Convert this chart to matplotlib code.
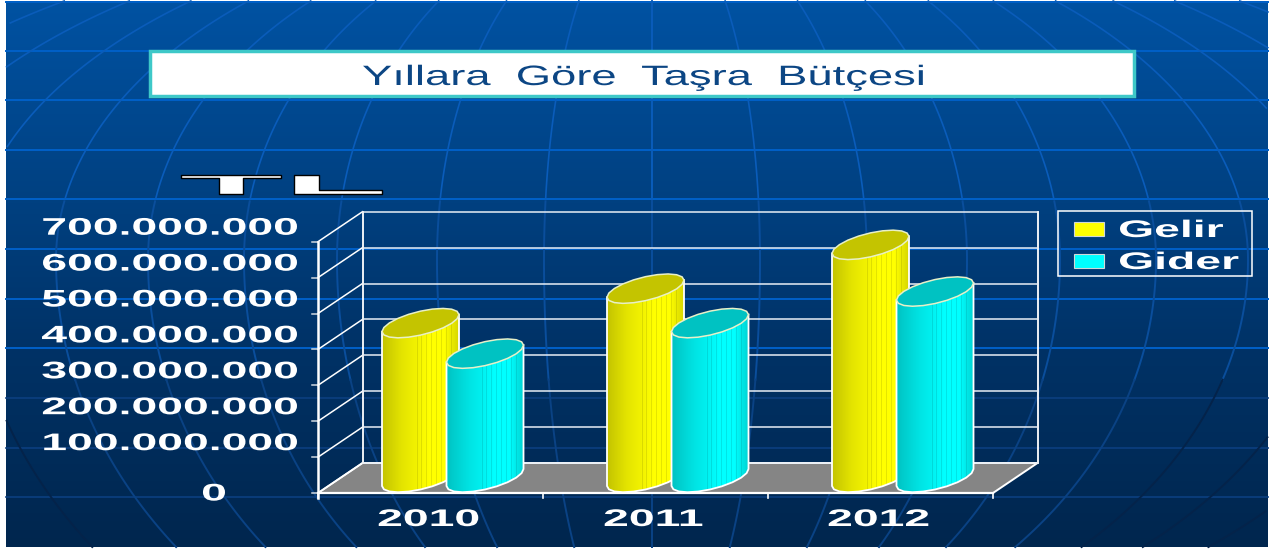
import numpy as np
import matplotlib
matplotlib.use("Agg")
import matplotlib.pyplot as plt
from matplotlib.colors import LinearSegmentedColormap
from matplotlib.font_manager import FontProperties
from matplotlib.patches import Polygon, Rectangle
from matplotlib.path import Path
from matplotlib.text import Text
from matplotlib.textpath import TextPath
from matplotlib.transforms import Affine2D, Bbox

title = "Yıllara  Göre  Taşra  Bütçesi"
unit = "TL"
years = ["2010", "2011", "2012"]
gelir = [430e6, 526e6, 648e6]
gider = [345e6, 430e6, 518e6]
series_names = ["Gelir", "Gider"]
ticks = [0, 100e6, 200e6, 300e6, 400e6, 500e6, 600e6, 700e6]
tick_labels = ["0", "100.000.000", "200.000.000", "300.000.000",
               "400.000.000", "500.000.000", "600.000.000", "700.000.000"]

W, H = 1274, 550
BOLD = FontProperties(family="Liberation Sans", weight="bold")
REG = FontProperties(family="Liberation Sans")


class WideText(Text):
    # the slide was stretched sideways, normal Text can't do that
    def __init__(self, x, y, s, px=24, sx=1.93, edge=None, edge_w=0, **kw):
        super().__init__(x, y, s, **kw)
        self.px, self.sx, self.edge, self.edge_w = px, sx, edge, edge_w

    def _placed(self):
        tp = TextPath((0, 0), self.get_text(), size=self.px,
                      prop=self.get_fontproperties())
        ext = tp.get_extents()
        xd, yd = self.get_transform().transform(self.get_position())
        off = {"left": ext.x0, "center": (ext.x0 + ext.x1) / 2,
               "right": ext.x1}[self.get_ha()] * self.sx
        return Path(tp.vertices, tp.codes), Affine2D().scale(self.sx, 1).translate(xd - off, yd)

    def get_window_extent(self, renderer=None, dpi=None):
        p, tr = self._placed()
        return Bbox(p.get_extents(tr))

    def draw(self, renderer):
        p, tr = self._placed()
        gc = renderer.new_gc()
        gc.set_antialiased(True)
        gc.set_linewidth(self.edge_w)
        gc.set_foreground(self.edge if self.edge else self.get_color())
        renderer.draw_path(gc, p, tr, matplotlib.colors.to_rgb(self.get_color()))
        gc.restore()


def wtext(x, y, s, **kw):
    t = WideText(x, y, s, **kw)
    ax.add_artist(t)
    t.set_transform(ax.transData)
    return t


fig = plt.figure(figsize=(W / 100, H / 100), dpi=100, facecolor="white")
ax = fig.add_axes([0, 0, 1, 1])
ax.axis("off")

# background
bg = LinearSegmentedColormap.from_list("bg", [(0, "#0052a2"), (0.37, "#004080"),
                                              (0.64, "#003266"), (1, "#00264e")])
ax.imshow(np.linspace(0, 1, 256)[:, None], cmap=bg, aspect="auto", extent=(6, 1268, 547, 1), zorder=0)

for yy in [2, 51, 100, 150, 199, 249, 299, 348, 398, 448, 497]:
    ax.plot([6, 1268], [yy, yy], color="#0060c8" if yy < 360 else "#0b3f80", lw=1.4 if yy < 360 else 1.2, zorder=1)

# meridians of the globe behind
ys = np.linspace(1, 547, 200)
for half in [0, 108, 215, 315, 408, 504, 596, 681, 772, 868]:
    for side in [-1, 1]:
        low_b = 414.0 + (max(half - 400, 0) * 0.32 if side < 0 else 0)
        b = np.where(ys < 260, 352.0, low_b)
        xs = 652 + side * half * np.sqrt(1 - ((ys - 260) / b) ** 2)
        keep = (xs > 6) & (xs < 1268)
        xs_k = np.where(keep, xs, np.nan)
        outer = half >= 681 or (side > 0 and half >= 596)
        ax.plot(xs_k[ys < 200], ys[ys < 200], color="#0a5cba", lw=1.2, zorder=1)
        ax.plot(xs_k[(ys >= 199) & (ys < 380)], ys[(ys >= 199) & (ys < 380)], color="#0a4e9c", lw=1.4, zorder=1)
        ax.plot(xs_k[ys >= 379], ys[ys >= 379], color="#04234a" if outer else "#0a4284", lw=1.4, zorder=1)

# title box
ax.add_patch(Rectangle((150, 51), 984, 45, fc="white", ec="#3ec8c8", lw=2.5, zorder=3))
wtext(363, 85, title, px=28, sx=1.62, color="#0c4684", fontproperties=REG, ha="left", zorder=4)
wtext(181, 193.5, unit, px=27, sx=6.3, color="white", edge="black", edge_w=1.0,
      fontproperties=BOLD, ha="left", zorder=4)

# 3d box of the chart
x0, y0, step = 318, 493, 35.9
dx, dy, xr = 44.5, -30, 993


def val_y(v):
    return y0 - v / 100e6 * step


floor = [(x0, y0), (xr, y0), (xr + dx, y0 + dy), (x0 + dx, y0 + dy)]
ax.add_patch(Polygon(floor, closed=True, fc="#858585", ec="white", lw=1.4, zorder=2))
top_y = val_y(ticks[-1])
ax.plot([x0 + dx, x0 + dx], [top_y + dy, y0 + dy], color="white", lw=1.3, zorder=2)
ax.plot([xr + dx, xr + dx], [top_y + dy, y0 + dy], color="white", lw=1.3, zorder=2)
for t in ticks:
    yy = val_y(t)
    ax.plot([x0, x0 + dx], [yy, yy + dy], color="white", lw=1.1, zorder=2)
    ax.plot([x0 + dx, xr + dx], [yy + dy, yy + dy], color="#e8eef5", lw=1.1, zorder=2)
    ax.plot([x0 - 6, x0], [yy, yy], color="#d0d8e0", lw=1.1, zorder=2)
ax.plot([x0, x0], [top_y, y0 + 5], color="white", lw=1.8, zorder=2)
ax.plot([x0, xr], [y0, y0], color="white", lw=1.6, zorder=2)
for i in range(len(years) + 1):
    xt = x0 + i * (xr - x0) / len(years)
    ax.plot([xt, xt], [y0, y0 + 5], color="white", lw=1.2, zorder=2)

for t, lab in zip(ticks, tick_labels):
    if t == 0:
        wtext(225, val_y(t) + 7.5, lab, color="white", fontproperties=BOLD, ha="right", zorder=4)
    else:
        wtext(297, val_y(t) - 7, lab, color="white", fontproperties=BOLD, ha="right", zorder=4)


def shade(dark, mid, bright, end):
    c = LinearSegmentedColormap.from_list("c", [(0, dark), (0.25, mid), (0.62, bright), (0.82, bright), (1, end)])
    g = c(np.linspace(0, 1, 78))
    g[35:74:5, :3] *= 0.9  # thin facet stripes
    return g[None, :, :]


def column(xl, v, grad, top_col, z):
    w, s, h = 38.5, -8.5, 12
    cx = xl + w
    cy_b = y0 - 15.5
    cy_t = val_y(v) - 15.5
    t = np.linspace(0, np.pi, 11)
    low_x = cx + w * np.cos(t)
    low_y = cy_b + s * np.cos(t) + h * np.sin(t)
    body = Polygon(np.r_[[[xl, cy_t - s]], [[xl + 2 * w, cy_t + s]],
                         np.c_[low_x, low_y]], closed=True, fc="none", ec="white", lw=1.3, zorder=z + 0.2)
    ax.add_patch(body)
    im = ax.imshow(grad, aspect="auto", extent=(xl, xl + 2 * w, y0, cy_t - 20), interpolation="nearest", zorder=z)
    im.set_clip_path(body)
    t = np.linspace(0, 2 * np.pi, 21)
    cap = np.c_[cx + w * np.cos(t), cy_t + s * np.cos(t) + h * np.sin(t)]
    ax.add_patch(Polygon(cap, closed=True, fc=top_col, ec="#e8f0c8", lw=1.1, zorder=z + 0.3))


yel = shade("#c4c400", "#e4e400", "#ffff00", "#d8d800")
cya = shade("#00c4c4", "#00e0e0", "#00ffff", "#00d4d4")
for i, yr in enumerate(years):
    xg = 382 + i * 225
    column(xg, gelir[i], yel, "#c4c400", 5 + 2 * i)
    column(xg + 64.5, gider[i], cya, "#00c2c2", 6 + 2 * i)
    wtext(x0 + (i + 0.5) * (xr - x0) / len(years) - 2, 526, yr, color="white",
          fontproperties=BOLD, ha="center", zorder=20)

# legend
ax.add_patch(Rectangle((1058, 211), 194, 65, fc="none", ec="white", lw=1.1, zorder=3))
for name, col, yb in zip(series_names, ["#ffff00", "#00ffff"], [237, 269]):
    ax.add_patch(Rectangle((1074, yb - 15), 30, 14, fc=col, ec="#d0d8d8", lw=0.8, zorder=4))
    wtext(1120, yb, name, color="white", fontproperties=BOLD, ha="left", zorder=4)

ax.set_xlim(0, W)
ax.set_ylim(H, 0)
fig.savefig("out.png", dpi=100, facecolor="white")
